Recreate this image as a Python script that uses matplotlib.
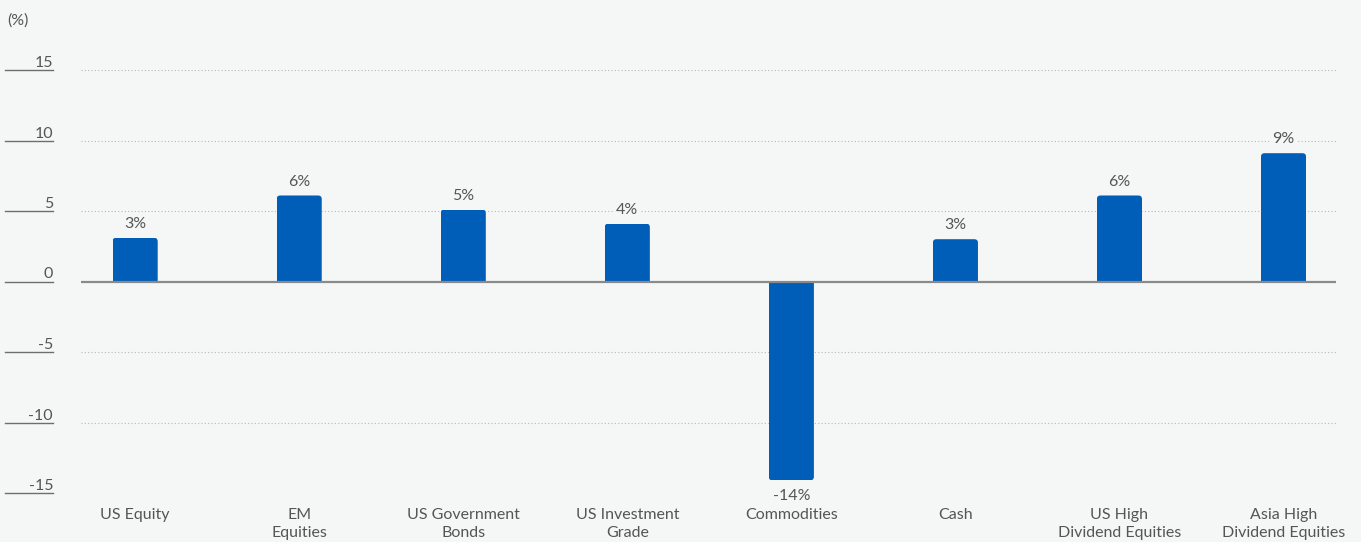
import numpy as np
import matplotlib.pyplot as plt
from matplotlib.patches import FancyBboxPatch
from matplotlib.transforms import blended_transform_factory

##### chart data
categories = ['US Equity', 'EM\nEquities', 'US Government\nBonds', 'US Investment\nGrade',
              'Commodities', 'Cash', 'US High\nDividend Equities', 'Asia High\nDividend Equities']
returns = [3.1, 6.1, 5.1, 4.1, -14.1, 3.0, 6.1, 9.1]
bar_labels = ['3%', '6%', '5%', '4%', '-14%', '3%', '6%', '9%']
yticks = [15, 10, 5, 0, -5, -10, -15]

##### styles
bg = '#f5f7f6'
bar_color = '#005eb8'
text_color = '#555555'
plt.rcParams['font.family'] = ['Lato', 'DejaVu Sans']

fig = plt.figure(figsize=[13.61, 5.42], dpi=100, facecolor=bg)
ax = fig.add_axes([81/1361, 1-493/542, 1255/1361, 423/542])
ax.set_facecolor(bg)
xlim = (-0.33, 7.32)
ylim = (-15, 15)
ax.set_xlim(xlim)
ax.set_ylim(ylim)

x = np.arange(len(categories))
bars = ax.bar(x, returns, width=0.275, color=bar_color, zorder=3)

# rounded bar ends: a rounded patch pushed past the base, clipped to the bar
aspect = (1255 / (xlim[1] - xlim[0])) / (423 / (ylim[1] - ylim[0]))
r = 0.022
ry = r * aspect
for b in bars:
    bx, by, bw, bh = b.get_x(), b.get_y(), b.get_width(), b.get_height()
    if bh >= 0:
        y0, h = by - ry, bh + ry
    else:
        y0, h = by + bh, -bh + ry
    rp = FancyBboxPatch((bx, y0), bw, h,
                        boxstyle='round,pad=0,rounding_size=%g' % r,
                        mutation_aspect=aspect, fc=bar_color, ec='none',
                        lw=0, zorder=3)
    ax.add_patch(rp)
    rp.set_clip_path(b)
    b.set_visible(False)

# data labels above / below each bar
for xi, v, lab in zip(x, returns, bar_labels):
    off = 5 if v >= 0 else -6
    ax.annotate(lab, (xi, v), xytext=(0, off), textcoords='offset points',
                ha='center', va='bottom' if v >= 0 else 'top',
                fontsize=11.5, color=text_color, zorder=4, annotation_clip=False,
                bbox=dict(boxstyle='square,pad=0.1', fc=bg, ec='none'))

# grid lines and zero line
for t in yticks:
    if t == 0:
        ax.axhline(0, color='#8a8a8a', lw=1.6, zorder=4)
    else:
        ax.axhline(t, color='#b8b8b8', lw=0.8, ls=(0, (1, 2)), zorder=1)

ax.set_xticks(x)
ax.set_xticklabels(categories, fontsize=11.5, color=text_color, linespacing=1.3)
ax.tick_params(axis='x', length=0, pad=11)
ax.set_yticks([])
for s in ax.spines.values():
    s.set_visible(False)

# y tick labels with underline on the left
tr = blended_transform_factory(fig.transFigure, ax.transData)
for t in yticks:
    ax.plot([5/1361, 53/1361], [t, t], transform=tr, color='#6e6e6e', lw=1.0, clip_on=False)
    ax.text(53/1361, t, str(t), transform=tr, ha='right', va='bottom',
            fontsize=11.5, color=text_color)

fig.text(7/1361, 1-21/542, '(%)', ha='left', va='center', fontsize=11.5, color=text_color)

fig.savefig('out.png', dpi=100, facecolor=bg)
